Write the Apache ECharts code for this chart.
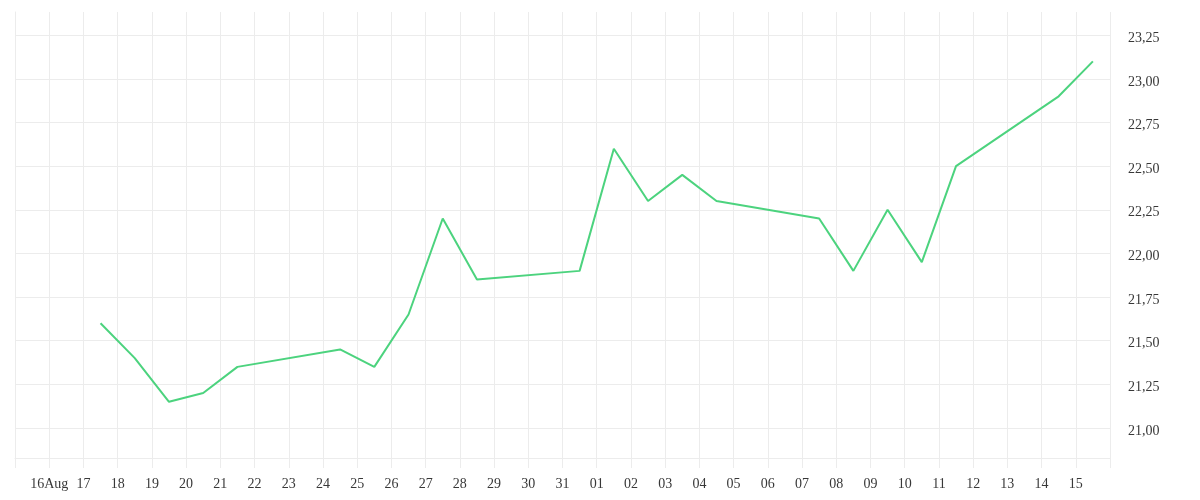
<!DOCTYPE html>
<html>
<head>
<meta charset="utf-8">
<style>
  html, body { margin: 0; padding: 0; background: #ffffff; }
  #chart { width: 1200px; height: 500px; }
</style>
<script src="https://cdn.jsdelivr.net/npm/echarts@6/dist/echarts.min.js"></script>
</head>
<body>
<div id="chart"></div>
<script>
// Trading dates (noon of each day) and closing values
const dates = [
  '2020-08-17', '2020-08-18', '2020-08-19', '2020-08-20', '2020-08-21',
  '2020-08-24', '2020-08-25', '2020-08-26', '2020-08-27', '2020-08-28',
  '2020-08-31', '2020-09-01', '2020-09-02', '2020-09-03', '2020-09-04',
  '2020-09-07', '2020-09-08', '2020-09-09', '2020-09-10', '2020-09-11',
  '2020-09-14', '2020-09-15'
];
const values = [
  21.60, 21.40, 21.15, 21.20, 21.35,
  21.45, 21.35, 21.65, 22.20, 21.85,
  21.90, 22.60, 22.30, 22.45, 22.30,
  22.20, 21.90, 22.25, 21.95, 22.50,
  22.90, 23.10
];
// Daily tick labels from 2020-08-15 (index 0) to 2020-09-16 (index 32)
const xTickLabels = [
  '', '16Aug', '17', '18', '19', '20', '21', '22', '23', '24', '25', '26', '27',
  '28', '29', '30', '31', '01', '02', '03', '04', '05', '06', '07', '08', '09',
  '10', '11', '12', '13', '14', '15', ''
];
const yTickValues = [21.00, 21.25, 21.50, 21.75, 22.00, 22.25, 22.50, 22.75, 23.00, 23.25];

const startDay = Date.UTC(2020, 7, 15);
const DAY = 86400000;
function dayIndex(s) {
  const p = s.split('-').map(Number);
  return (Date.UTC(p[0], p[1] - 1, p[2]) - startDay) / DAY + 0.5;
}
const seriesData = dates.map((d, i) => [dayIndex(d), values[i]]);

const gridColor = '#ececec';
const textColor = '#383838';
const font = 'Liberation Serif';

const chart = echarts.init(document.getElementById('chart'));
chart.setOption({
  animation: false,
  backgroundColor: '#ffffff',
  grid: { left: 15, right: 90, top: 12, bottom: 42 },
  xAxis: {
    type: 'value',
    min: 0,
    max: xTickLabels.length - 1,
    interval: 1,
    axisLine: { show: true, lineStyle: { color: gridColor, width: 1 } },
    axisTick: { show: true, length: 10, lineStyle: { color: gridColor } },
    splitLine: { show: true, lineStyle: { color: gridColor, width: 1 } },
    axisLabel: {
      margin: 19,
      color: textColor,
      fontFamily: font,
      fontSize: 14,
      formatter: function (v) { return xTickLabels[Math.round(v)] || ''; }
    }
  },
  yAxis: {
    type: 'value',
    position: 'right',
    min: 20.828,
    max: 23.383,
    axisLine: { show: true, lineStyle: { color: gridColor, width: 1 } },
    axisTick: { show: false, customValues: yTickValues },
    splitLine: { show: true, lineStyle: { color: gridColor, width: 1 } },
    axisLabel: {
      customValues: yTickValues,
      margin: 18,
      color: textColor,
      fontFamily: font,
      fontSize: 14,
      verticalAlign: 'top',
      lineHeight: 6,
      formatter: function (v) { return v.toFixed(2).replace('.', ','); }
    }
  },
  series: [{
    type: 'line',
    data: seriesData,
    showSymbol: false,
    symbol: 'none',
    lineStyle: { color: '#4cd37e', width: 2 },
    itemStyle: { color: '#4cd37e' }
  }]
});
</script>
</body>
</html>
